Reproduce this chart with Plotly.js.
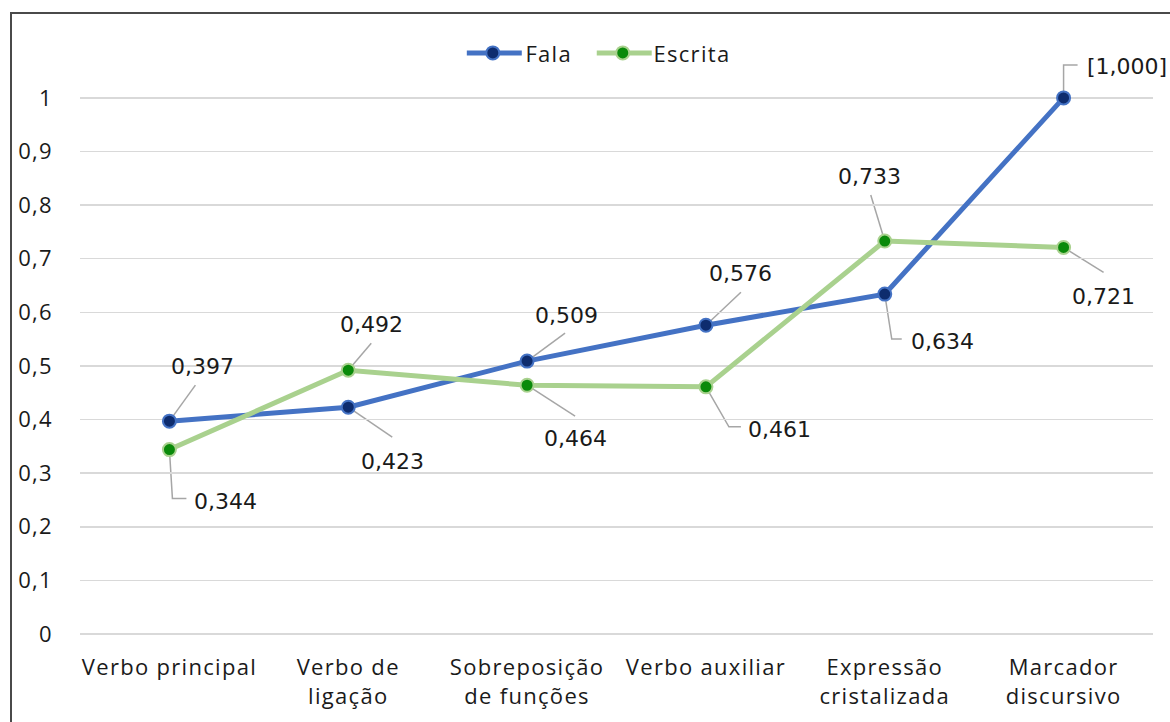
<!DOCTYPE html>
<html>
<head>
<meta charset="utf-8">
<script src="https://cdn.plot.ly/plotly-3.0.1.min.js"></script>
<style>
  html, body { margin: 0; padding: 0; width: 1170px; height: 722px; overflow: hidden; background: #fff; }
  #chart { position: absolute; left: 0; top: 0; width: 1170px; height: 722px; }
  #frame { position: absolute; left: 10px; top: 12px; width: 1300px; height: 900px; border: 2px solid #4a4a4a; pointer-events: none; }
  #chart .xtick text, #chart .ytick text, #chart .wide-text text { letter-spacing: 1.3px; }
</style>
</head>
<body>
<div id="chart"></div>
<div id="frame"></div>
<script>
// ---- data ----
const categories = ["Verbo principal", "Verbo de<br>ligação", "Sobreposição<br>de funções", "Verbo auxiliar", "Expressão<br>cristalizada", "Marcador<br>discursivo"];
const fala = [0.397, 0.423, 0.509, 0.576, 0.634, 1.000];
const escrita = [0.344, 0.492, 0.464, 0.461, 0.733, 0.721];
const falaLabels = ["0,397", "0,423", "0,509", "0,576", "0,634", "[1,000]"];
const escritaLabels = ["0,344", "0,492", "0,464", "0,461", "0,733", "0,721"];
const yTickVals = [0, 0.1, 0.2, 0.3, 0.4, 0.5, 0.6, 0.7, 0.8, 0.9, 1];
const yTickText = ["0", "0,1", "0,2", "0,3", "0,4", "0,5", "0,6", "0,7", "0,8", "0,9", "1"];
const seriesNames = ["Fala", "Escrita"];

// ---- styling: label offsets (px, +x right, +y up) and leader paths ----
const falaLabelOffset = [[33, 55], [44, -54], [39, 46], [35, 52], [58, -47], [63, 31]];
const escritaLabelOffset = [[56, -52], [23, 46], [48, -53], [74, -43], [-15, 65], [40, -49]];
const falaLeader = ["M0,0 L26,36", "M0,0 L44,-30", "M0,0 L38,28", "M0,0 L35,33", "M0,0 L7,-45 L17,-45", "M0,0 L0,33 L14,33"];
const escritaLeader = ["M0,0 L3,-49 L17,-49", "M0,0 L23,27", "M0,0 L48,-31", "M0,0 L23,-40 L35,-40", "M0,0 L-14,46", "M0,0 L40,-25"];

const xs = categories.map((c, i) => i);
const blue = "#4472C4", navy = "#0E2C6E", lgreen = "#A9D18E", dgreen = "#0A8A0A";
const axisFont = { family: "'Open Sans', 'Noto Sans', sans-serif", size: 22, color: "#1a1a1a" };
const labelFont = { family: "'DejaVu Sans', sans-serif", size: 22, color: "#1a1a1a" };

const traces = [
  { x: xs, y: fala, name: seriesNames[0], type: "scatter", mode: "lines+markers",
    line: { color: blue, width: 5 }, marker: { size: 13, color: navy, line: { color: blue, width: 2 } }, cliponaxis: false },
  { x: xs, y: escrita, name: seriesNames[1], type: "scatter", mode: "lines+markers",
    line: { color: lgreen, width: 5 }, marker: { size: 13, color: dgreen, line: { color: lgreen, width: 2 } }, cliponaxis: false }
];

const annotations = [];
const shapes = [];
function addLabels(vals, texts, offs, leaders) {
  vals.forEach((v, i) => {
    shapes.push({ type: "path", xref: "x", yref: "y", xsizemode: "pixel", ysizemode: "pixel",
      xanchor: xs[i], yanchor: v, path: leaders[i], line: { color: "#A6A6A6", width: 1.5 }, layer: "below" });
    annotations.push({ x: xs[i], y: v, xref: "x", yref: "y", text: texts[i], showarrow: false,
      xshift: offs[i][0], yshift: offs[i][1], font: labelFont, xanchor: "center", yanchor: "middle" });
  });
}
addLabels(fala, falaLabels, falaLabelOffset, falaLeader);
addLabels(escrita, escritaLabels, escritaLabelOffset, escritaLeader);

// plot area geometry (px): y=0 at 634, y=1 at 98; range extended so leaders above 1 are not clipped
const L = 80, R = 1153.5, B = 634;
const yMax = 1.08;
const unitPx = 536;
const T = B - unitPx * yMax;
const px2paperX = p => (p - L) / (R - L);
const py2paperY = p => (B - p) / (B - T);

// custom legend (paper coords)
const legendItems = [
  { name: seriesNames[0], line: blue, fill: navy, x0: 467, text: 526 },
  { name: seriesNames[1], line: lgreen, fill: dgreen, x0: 597, text: 656 }
];
const legendAnnStart = annotations.length;
legendItems.forEach(it => {
  shapes.push({ type: "line", xref: "paper", yref: "paper", x0: px2paperX(it.x0), x1: px2paperX(it.x0 + 55), y0: py2paperY(53), y1: py2paperY(53),
    line: { color: it.line, width: 5, cap: "round" } });
  shapes.push({ type: "circle", xref: "paper", yref: "paper", xsizemode: "pixel", ysizemode: "pixel",
    xanchor: px2paperX(it.x0 + 26), yanchor: py2paperY(53), x0: -6.5, x1: 6.5, y0: -6.5, y1: 6.5,
    fillcolor: it.fill, line: { color: it.line, width: 2 } });
  annotations.push({ xref: "paper", yref: "paper", x: px2paperX(it.text), y: py2paperY(53), text: it.name, showarrow: false,
    xanchor: "left", yanchor: "middle", font: axisFont });
});

const layout = {
  width: 1170, height: 722,
  margin: { l: L, r: 1170 - R, t: T, b: 722 - B, pad: 0 },
  paper_bgcolor: "#fff", plot_bgcolor: "#fff",
  showlegend: false,
  xaxis: { range: [-0.5, 5.5], tickvals: xs, ticktext: categories, showgrid: false, zeroline: false, showline: false,
    ticks: "", tickfont: axisFont, ticklabelstandoff: 18, fixedrange: true },
  yaxis: { range: [0, yMax], tickvals: yTickVals, ticktext: yTickText, showgrid: true, gridcolor: "#D9D9D9", gridwidth: 1.5,
    zeroline: true, zerolinecolor: "#D9D9D9", zerolinewidth: 1.5, showline: false, ticks: "", tickfont: axisFont,
    ticklabelstandoff: 26, fixedrange: true },
  shapes: shapes,
  annotations: annotations
};

Plotly.newPlot("chart", traces, layout, { displayModeBar: false, staticPlot: true }).then(gd => {
  gd.querySelectorAll("g.annotation").forEach(g => {
    const idx = +g.getAttribute("data-index");
    if (idx >= legendAnnStart) g.classList.add("wide-text");
  });
});
</script>
</body>
</html>
